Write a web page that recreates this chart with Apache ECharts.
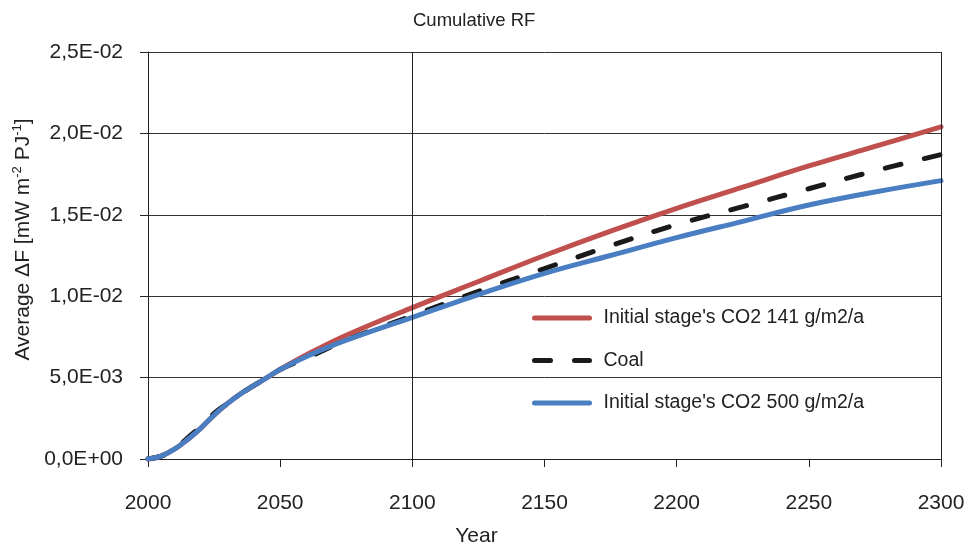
<!DOCTYPE html>
<html>
<head>
<meta charset="utf-8">
<script src="https://cdn.jsdelivr.net/npm/echarts@6/dist/echarts.min.js"></script>
<style>html,body{margin:0;padding:0;background:#fff;}#c{width:974px;height:549px;}</style>
</head>
<body>
<div id="c"></div>
<script>
var years = [2000, 2005, 2010, 2015, 2020, 2025, 2030, 2035, 2040, 2045, 2050, 2060, 2075, 2100, 2125, 2150, 2175, 2200, 2225, 2250, 2275, 2300];
var red141 = [0, 0.00018, 0.0006, 0.0012, 0.0019, 0.0027, 0.0034, 0.0040, 0.0045, 0.0050, 0.0055, 0.0064, 0.0076, 0.0093, 0.0109, 0.0125, 0.0140, 0.0154, 0.0167, 0.0180, 0.0192, 0.0204];
var coal = [0, 0.00018, 0.0006, 0.0013, 0.0020, 0.0028, 0.0034, 0.0040, 0.0045, 0.0050, 0.0055, 0.0062, 0.0073, 0.0088, 0.0103, 0.0117, 0.0131, 0.0144, 0.0155, 0.0166, 0.0177, 0.0187];
var blue500 = [0, 0.00018, 0.0006, 0.0012, 0.0019, 0.0027, 0.0034, 0.0040, 0.0045, 0.0050, 0.0055, 0.0063, 0.0073, 0.0087, 0.0101, 0.0114, 0.0125, 0.0136, 0.0146, 0.0156, 0.0164, 0.0171];
var names = ["Initial stage's CO2 141 g/m2/a", "Coal", "Initial stage's CO2 500 g/m2/a"];

function pairs(v) { return years.map(function (y, i) { return [y, v[i]]; }); }
function fmtE(v) {
  if (v === 0) return '0,0E+00';
  var s = v.toExponential(1);
  var parts = s.split('e');
  var m = parts[0].replace('.', ',');
  var e = parseInt(parts[1], 10);
  var sign = e < 0 ? '-' : '+';
  var a = Math.abs(e);
  return m + 'E' + sign + (a < 10 ? '0' + a : a);
}
var F = 'Liberation Sans, Arial, sans-serif';
var TC = '#222';
var chart = echarts.init(document.getElementById('c'));
chart.setOption({
  backgroundColor: '#fff',
  animation: false,
  title: {
    text: 'Cumulative RF', left: 408, top: 6,
    textStyle: { fontFamily: F, fontSize: 18.5, fontWeight: 'normal', color: TC }
  },
  grid: { left: 148, right: 33, top: 52, bottom: 90, containLabel: false, outerBoundsMode: 'none' },
  legend: {
    orient: 'vertical', left: 532, top: 308, padding: 0, itemGap: 22.5, itemWidth: 55, itemHeight: 23,
    itemStyle: { opacity: 0 },
    lineStyle: { width: 5, cap: 'round' },
    textStyle: { fontFamily: F, fontSize: 19.5, color: TC, padding: [0, 0, 0, 9] },
    data: names
  },
  xAxis: {
    type: 'value', min: 2000, max: 2300, interval: 50,
    name: 'Year', nameLocation: 'middle', nameGap: 67,
    nameTextStyle: { fontFamily: F, fontSize: 21, color: TC, padding: [0, 136, 0, 0] },
    axisLine: { show: true, lineStyle: { color: TC, width: 1 } },
    axisTick: { show: true, inside: false, length: 8, lineStyle: { color: TC } },
    axisLabel: { fontFamily: F, fontSize: 21, color: TC, margin: 34, formatter: function (v) { return String(v); } },
    splitLine: { show: false }
  },
  yAxis: {
    type: 'value', min: 0, max: 0.025, interval: 0.005,
    name: '{a|Average ΔF [mW m}{s|-2}{a| PJ}{s|-1}{a|]}',
    nameLocation: 'middle', nameGap: 110, nameRotate: 90,
    nameTextStyle: {
      padding: [0, 0, 0, 32],
      rich: {
        a: { fontFamily: F, fontSize: 21, color: TC, lineHeight: 24 },
        s: { fontFamily: F, fontSize: 13, color: TC, verticalAlign: 'top', lineHeight: 24 }
      }
    },
    axisLine: { show: true, lineStyle: { color: TC, width: 1 } },
    axisTick: { show: true, inside: false, length: 8, lineStyle: { color: TC } },
    axisLabel: { fontFamily: F, fontSize: 21, color: TC, margin: 25, padding: [5, 0, 0, 0], formatter: fmtE },
    splitLine: { show: true, lineStyle: { color: '#333', width: 1 } }
  },
  series: [
    {
      name: names[0], type: 'line', smooth: 0.4, showSymbol: false, symbol: 'none',
      data: pairs(red141), color: '#C0504D',
      lineStyle: { color: '#C0504D', width: 5, cap: 'round' },
      markLine: {
        silent: true, symbol: 'none', label: { show: false },
        lineStyle: { color: TC, width: 1, type: 'solid' },
        data: [{ xAxis: 2100 }, { xAxis: 2300 }]
      },
      z: 2
    },
    {
      name: names[1], type: 'line', smooth: 0.4, showSymbol: false, symbol: 'none',
      data: pairs(coal), color: '#1a1a1a',
      lineStyle: { color: '#1a1a1a', width: 5, type: [16, 24], cap: 'round' },
      z: 3
    },
    {
      name: names[2], type: 'line', smooth: 0.4, showSymbol: false, symbol: 'none',
      data: pairs(blue500), color: '#4A7EC2',
      lineStyle: { color: '#4A7EC2', width: 5, cap: 'round' },
      z: 4
    }
  ]
});
</script>
</body>
</html>
